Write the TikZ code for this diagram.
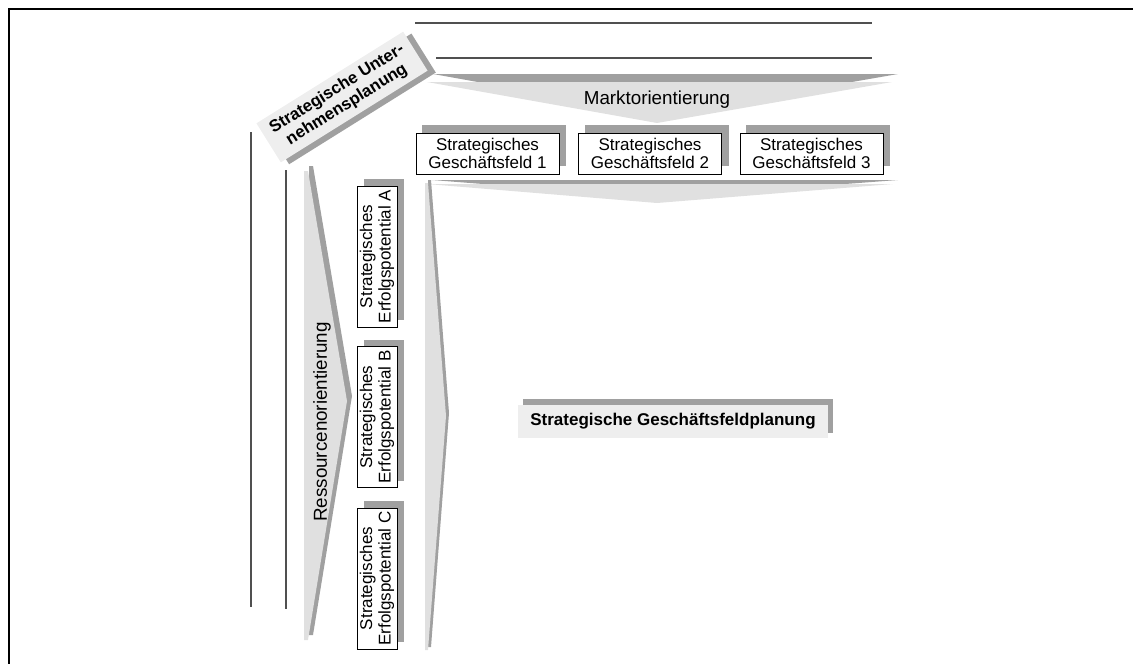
\documentclass[tikz,border=0pt]{standalone}
\usepackage{fontspec}
\setmainfont{Liberation Sans}
\definecolor{shadowgray}{HTML}{A0A0A0}
\definecolor{lightfill}{HTML}{E0E0E0}
\definecolor{labelfill}{HTML}{EEEEEE}
\definecolor{linegray}{HTML}{505050}
\begin{document}
\begin{tikzpicture}[x=1pt,y=1pt,
  shadowc/.style={fill=shadowgray},
  lightc/.style={fill=lightfill},
  sbox/.style={draw=black, line width=1pt, fill=white, inner sep=0pt, align=center,
    font=\fontsize{17}{18.5}\selectfont},
  orient/.style={inner sep=0pt, font=\fontsize{18.8}{20}\selectfont},
  boldlabel/.style={inner sep=0pt, align=center, font=\bfseries\fontsize{17}{18.5}\selectfont},
  guide/.style={draw=linegray, line width=1.5pt}]
\useasboundingbox (0,0) rectangle (1133,-664);
% frame
\draw[line width=2pt] (9,-664) -- (9,-9) -- (1133,-9);
% top guide lines
\coordinate (t1a) at (415,-23); \coordinate (t1b) at (872,-23);
\coordinate (t2a) at (436,-58); \coordinate (t2b) at (872,-58);
\draw[guide] (t1a) -- (t1b);
\draw[guide] (t2a) -- (t2b);
% left guide lines
\coordinate (l1a) at (251,-132); \coordinate (l1b) at (251,-607);
\coordinate (l2a) at (286,-170); \coordinate (l2b) at (286,-609);
\draw[guide] (l1a) -- (l1b);
\draw[guide] (l2a) -- (l2b);
% top chevron (Marktorientierung)
\fill[shadowc] (433,-74) -- (898,-74) -- (662,-115) -- cycle;
\fill[lightc] (427,-82) -- (892,-82) -- (657,-123) -- cycle;
\node[orient] (markt) at (657,-100) {Marktorientierung};
% lower horizontal chevron
\fill[shadowc] (432,-180) -- (898,-180) -- (661,-198) -- cycle;
\fill[lightc] (427,-184) -- (893,-184) -- (657,-203) -- cycle;
% left vertical chevron (Ressourcenorientierung)
\fill[shadowc] (309,-166) -- (313,-166) -- (352,-396) -- (313,-635) -- (309,-635) -- cycle;
\fill[lightc] (304,-171) -- (308,-171) -- (347,-401) -- (308,-640) -- (304,-640) -- cycle;
\node[orient, rotate=90] (ress) at (322,-422) {Ressourcenorientierung};
% right vertical chevron
\fill[shadowc] (428,-180) -- (431,-180) -- (449,-413) -- (431,-647) -- (428,-647) -- cycle;
\fill[lightc] (425,-183) -- (428,-183) -- (446,-416) -- (428,-650) -- (425,-650) -- cycle;
% diagonal box
\begin{scope}[shift={(342,-97)}, rotate=32]
  \fill[shadowc] (-80.5,-29) rectangle (92.5,17);
  \fill[labelfill] (-86.5,-23) rectangle (86.5,23);
  \node[boldlabel, font=\bfseries\fontsize{16.8}{18.5}\selectfont, rotate=32] (sup) at (0,0) {Strategische Unter-\\nehmensplanung};
\end{scope}
% Geschaeftsfeld boxes
\foreach \x/\n in {487.5/1, 650/2, 811.5/3}{
  \fill[shadowc] (\x-65.5,-125) rectangle (\x+78.5,-166);
  \node[sbox, minimum width=143pt, minimum height=41pt] (sgf\n) at (\x,-153.5) {Strategisches\\Gesch\"aftsfeld \n};
}
% Erfolgspotential boxes
\foreach \y/\n in {256.5/A, 417/B, 578.5/C}{
  \fill[shadowc] (364,-\y+77.5) rectangle (404,-\y-63.5);
  \node[sbox, rotate=90, minimum width=141pt, minimum height=40pt] (sep\n) at (377,-\y) {Strategisches\\Erfolgspotential \n};
}
% Geschaeftsfeldplanung label
\fill[shadowc] (523,-399) rectangle (833,-433);
\fill[labelfill] (518,-405) rectangle (828,-438);
\node[boldlabel] (sgp) at (673,-421.5) {Strategische Gesch\"aftsfeldplanung};
\end{tikzpicture}
\end{document}
